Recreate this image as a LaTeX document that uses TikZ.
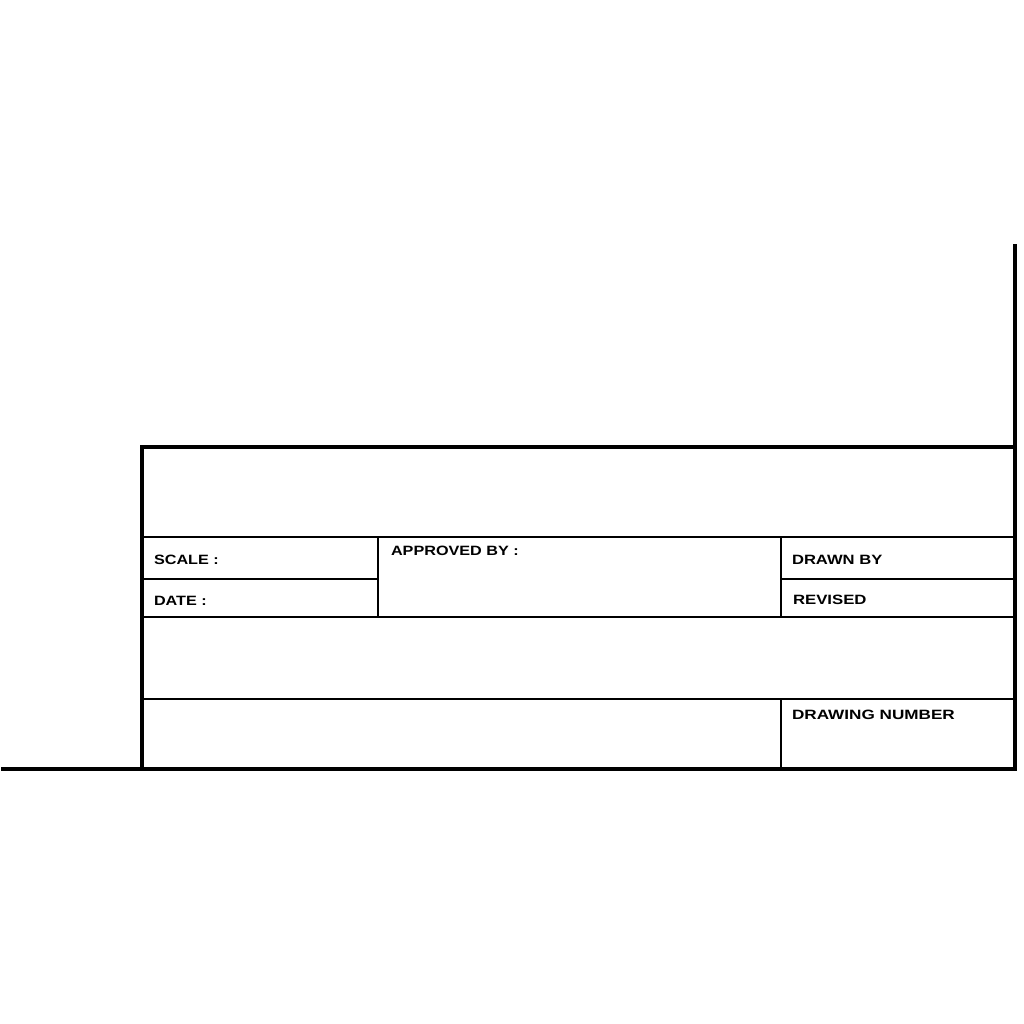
\documentclass[tikz,border=0pt]{standalone}
\usepackage{fontspec}
\usepackage{graphicx}
\newfontfamily\tbfont{Liberation Sans}
\newcommand{\tblabel}[2][1.2]{\scalebox{#1}[1]{\tbfont\bfseries\fontsize{13.5}{14}\selectfont #2}}
\tikzset{
  border/.style={line width=4.5pt, line cap=rect},
  frameline/.style={line width=3.8pt},
  inner/.style={line width=2.6pt},
  lbl/.style={anchor=base west, inner sep=0pt, outer sep=0pt}
}
\begin{document}
\begin{tikzpicture}[x=1pt,y=-1pt]
\useasboundingbox (0,0) rectangle (1024,1024);
% outer sheet border
\coordinate (bl) at (3,769);
\coordinate (br) at (1015,769);
\coordinate (tr) at (1015,246);
\draw[border] (bl) -- (br) -- (tr);
% title block frame
\draw[frameline] (142,769) -- (142,447) -- (1015,447);
% full-width rows
\draw[inner] (142,537) -- (1015,537);
\draw[inner] (142,617) -- (1015,617);
\draw[inner] (142,699) -- (1015,699);
% scale/date split
\draw[inner] (142,579) -- (378,579);
\draw[inner] (378,537) -- (378,617);
% drawn by/revised split
\draw[inner] (781,537) -- (781,617);
\draw[inner] (781,579) -- (1015,579);
% drawing number cell
\draw[inner] (781,699) -- (781,769);
% labels
\node[lbl] (scale) at (154,564) {\tblabel{SCALE :}};
\node[lbl] (date) at (154,605) {\tblabel{DATE :}};
\node[lbl] (appr) at (391,555) {\tblabel{APPROVED BY :}};
\node[lbl] (drawn) at (792,564) {\tblabel[1.23]{DRAWN BY}};
\node[lbl] (rev) at (793,604) {\tblabel[1.24]{REVISED}};
\node[lbl] (dnum) at (792,719) {\tblabel[1.27]{DRAWING NUMBER}};
\end{tikzpicture}
\end{document}
